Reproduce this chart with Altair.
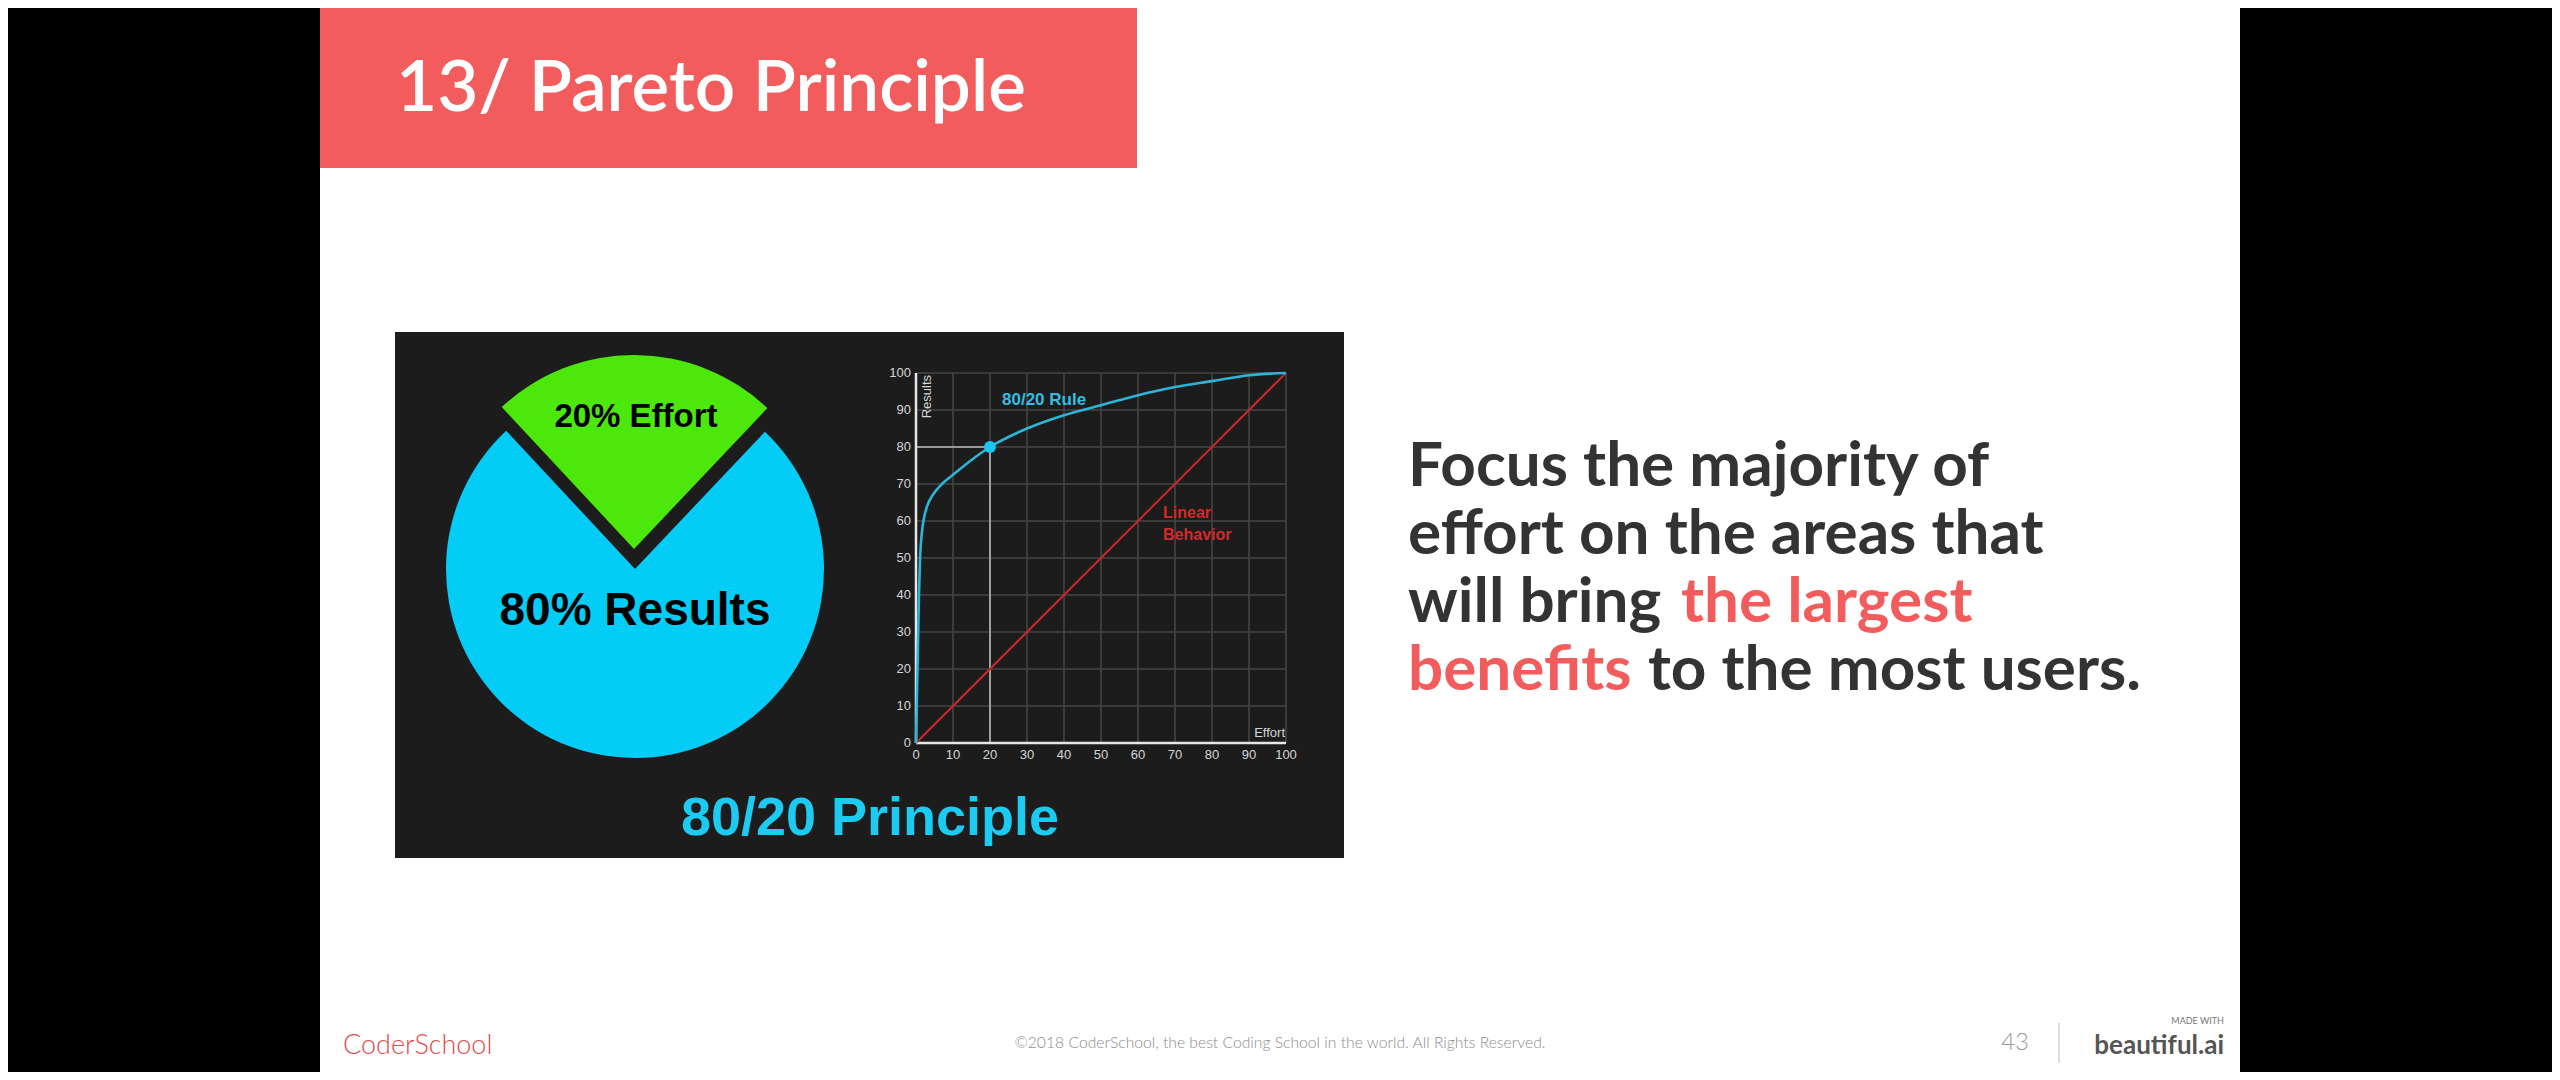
import altair as alt
import pandas as pd

# page is 2560x1080 with an 8px body margin, the chart fills the rest
W, H = 2544, 1064
OFF = 8

# ---- data ----
effort = [0, 0.2, 0.4, 0.6, 0.8, 1.1, 1.6, 2.2, 3, 4.5, 7, 10, 15, 20,
          30, 40, 50, 60, 70, 80, 90, 100]
results = [0, 10, 20, 30, 40, 50, 57, 61, 64, 67, 70, 72.5, 76.5, 80,
           85, 88.6, 91.3, 94, 96.2, 97.8, 99.4, 100]
linear_effort = [0, 100]
linear_results = [0, 100]
ticks = [0, 10, 20, 30, 40, 50, 60, 70, 80, 90, 100]
point_effort = [20]
point_results = [80]

pie_parts = ["20% Effort", "80% Results"]
pie_shares = [24, 76]   # angles as drawn on the slide

title = "13/ Pareto Principle"
body_lines = [
    [("Focus the majority of", "#333333", 1408)],
    [("effort on the areas that", "#333333", 1408)],
    [("will bring", "#333333", 1408), ("the largest", "#f25c5c", 1681)],
    [("benefits", "#f25c5c", 1408), ("to the most users.", "#333333", 1648)],
]
copyright_text = "\u00a92018 CoderSchool, the best Coding School in the world. All Rights Reserved."

# ---- fonts / colours ----
SANS = "Lato"
ARIAL = "Liberation Sans"
NARROW = "Liberation Sans Narrow, Liberation Sans"
CORAL = "#f25c5c"
PANEL = "#1c1c1c"

one = pd.DataFrame({"k": [0]})

# scales of the small effort/results plot, placed inside the dark panel
xs = alt.Scale(domain=[0, 100], range=[916 - OFF, 1286 - OFF], nice=False, zero=False)
ys = alt.Scale(domain=[0, 100], range=[743 - OFF, 373 - OFF], nice=False, zero=False)


def X(field):
    return alt.X(field, scale=xs, axis=None)


def Y(field):
    return alt.Y(field, scale=ys, axis=None)


def box(x0, y0, x1, y1, color):
    return alt.Chart(one).mark_rect(color=color).encode(
        x=alt.value(x0 - OFF), x2=alt.value(x1 - OFF),
        y=alt.value(max(y0 - OFF, 0)), y2=alt.value(y1 - OFF))


def label(txt, x, y, size, color, weight="normal", font=SANS, align="left",
          baseline="alphabetic", angle=0):
    return alt.Chart(one).mark_text(
        text=txt, fontSize=size, color=color, fontWeight=weight, font=font,
        align=align, baseline=baseline, angle=angle
    ).encode(x=alt.value(x - OFF), y=alt.value(y - OFF))


layers = []

# slide background, banner, title
layers.append(box(320, 0, 2240, 1080, "white"))
layers.append(box(320, 0, 1137, 168, CORAL))
layers.append(label(title, 396, 111, 71, "white", weight=600))

# dark picture panel
layers.append(box(395, 332, 1344, 858, PANEL))

# ---- pie ----
pie_df = pd.DataFrame({"part": pie_parts, "share": pie_shares})
pie_df["start"] = pie_df["share"].cumsum() - pie_df["share"]
pie_df["end"] = pie_df["share"].cumsum()
theta_scale = alt.Scale(domain=[0, 100], range=[-0.75, 2 * 3.14159265 - 0.75])

blue = alt.Chart(pie_df).transform_filter(
    alt.datum.part == pie_parts[1]
).mark_arc(radius=189, color="#03cdf6").encode(
    theta=alt.Theta("start:Q", scale=theta_scale), theta2="end:Q",
    x=alt.value(635 - OFF), y=alt.value(569 - OFF))
green = alt.Chart(pie_df).transform_filter(
    alt.datum.part == pie_parts[0]
).mark_arc(radius=194, color="#4de80b").encode(
    theta=alt.Theta("start:Q", scale=theta_scale), theta2="end:Q",
    x=alt.value(634 - OFF), y=alt.value(549 - OFF))
layers += [blue, green]

for part, (px, py, size) in zip(pie_parts, [(636, 427, 33), (635, 625, 46)]):
    layers.append(
        alt.Chart(pie_df).transform_filter(alt.datum.part == part)
        .mark_text(font=ARIAL, fontWeight="bold", fontSize=size, color="black",
                   align="center", baseline="alphabetic")
        .encode(text="part:N", x=alt.value(px - OFF), y=alt.value(py - OFF))
    )

# ---- effort / results plot ----
tick_df = pd.DataFrame({"tick": ticks, "lo": 0, "hi": 100})
grid_col = "#454545"
layers.append(alt.Chart(tick_df).mark_rule(color=grid_col, strokeWidth=1.6).encode(
    x=X("tick:Q"), y=Y("lo:Q"), y2="hi:Q"))
layers.append(alt.Chart(tick_df).mark_rule(color=grid_col, strokeWidth=1.6).encode(
    y=Y("tick:Q"), x=X("lo:Q"), x2="hi:Q"))

pt_df = pd.DataFrame({"effort": point_effort, "results": point_results, "lo": 0})
layers.append(alt.Chart(pt_df).mark_rule(color="#b8b8b8", strokeWidth=1.6).encode(
    x=X("lo:Q"), x2="effort:Q", y=Y("results:Q")))
layers.append(alt.Chart(pt_df).mark_rule(color="#b8b8b8", strokeWidth=1.6).encode(
    x=X("effort:Q"), y=Y("lo:Q"), y2="results:Q"))

# axis lines
axis_df = pd.DataFrame({"lo": [0], "hi": [100]})
layers.append(alt.Chart(axis_df).mark_rule(color="#e6e6e6", strokeWidth=2.5).encode(
    x=X("lo:Q"), y=Y("lo:Q"), y2="hi:Q"))
layers.append(alt.Chart(axis_df).mark_rule(color="#e6e6e6", strokeWidth=2.5).encode(
    y=Y("lo:Q"), x=X("lo:Q"), x2="hi:Q"))

lin_df = pd.DataFrame({"effort": linear_effort, "results": linear_results})
layers.append(alt.Chart(lin_df).mark_line(color="#c9272c", strokeWidth=2).encode(
    x=X("effort:Q"), y=Y("results:Q")))

curve_df = pd.DataFrame({"effort": effort, "results": results})
layers.append(alt.Chart(curve_df).mark_line(
    color="#2cb5d7", strokeWidth=2.6, interpolate="monotone").encode(
    x=X("effort:Q"), y=Y("results:Q")))

layers.append(alt.Chart(pt_df).mark_circle(size=140, color="#18c8f2", opacity=1).encode(
    x=X("effort:Q"), y=Y("results:Q")))

# tick labels
layers.append(alt.Chart(tick_df).mark_text(
    font=NARROW, fontSize=13, color="#d6d6d6", align="right", baseline="middle", dx=-5
).encode(x=X("lo:Q"), y=Y("tick:Q"), text="tick:Q"))
layers.append(alt.Chart(tick_df).mark_text(
    font=NARROW, fontSize=13, color="#d6d6d6", align="center", baseline="top", dy=6
).encode(x=X("tick:Q"), y=Y("lo:Q"), text="tick:Q"))

# axis titles and annotations
layers.append(label("Results", 921, 375, 13, "#d6d6d6", font=NARROW, align="right",
                    baseline="top", angle=270))
layers.append(label("Effort", 1285, 737, 13, "#d6d6d6", font=NARROW, align="right"))
layers.append(label("80/20 Rule", 1002, 405, 17, "#33bde0", weight="bold", font=ARIAL))
layers.append(label("Linear", 1163, 518, 16, "#d42a2a", weight="bold", font=ARIAL))
layers.append(label("Behavior", 1163, 540, 16, "#d42a2a", weight="bold", font=ARIAL))
layers.append(label("80/20 Principle", 870, 835, 54, "#1ccbf2", weight="bold",
                    font=ARIAL, align="center"))

# ---- right hand statement ----
for i, segs in enumerate(body_lines):
    base_y = 486 + i * 68
    for txt, col, sx in segs:
        layers.append(label(txt, sx, base_y, 62, col, weight="bold"))

# ---- footer ----
layers.append(label("CoderSchool", 343, 1054, 27, "#e04a4a", weight=300))
layers.append(label(copyright_text, 1280, 1048, 15.7, "#8c8c8c", weight=300, align="center"))
layers.append(label("43", 2029, 1050, 24, "#9a9a9a", weight=300, align="right"))
layers.append(box(2058, 1023, 2060, 1063, "#dddddd"))
layers.append(label("MADE WITH", 2224, 1024, 9, "#777777", align="right"))
layers.append(label("beautiful.ai", 2224, 1054, 26, "#555555", weight="bold", align="right"))

chart = alt.layer(*layers).properties(
    width=W, height=H, padding=0, background="#000000",
    autosize=alt.AutoSizeParams(type="none"),
).configure_view(strokeWidth=0)

chart.save("out.html", embed_options={"renderer": "svg", "actions": False})
